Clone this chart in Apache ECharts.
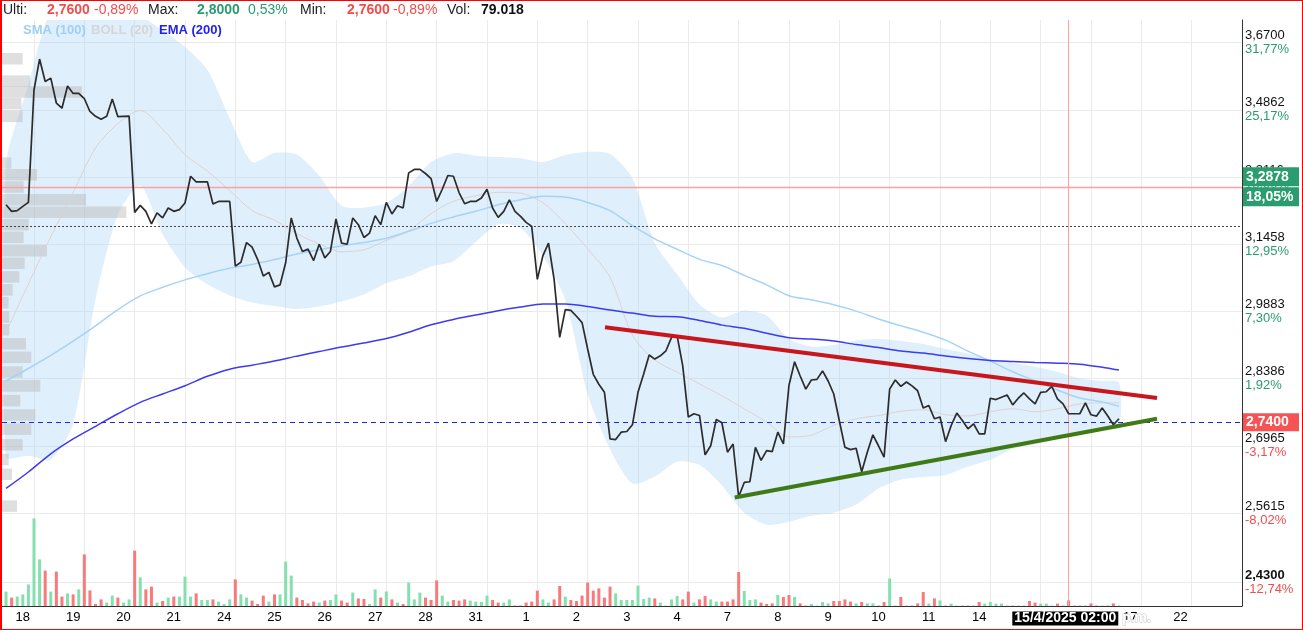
<!DOCTYPE html>
<html><head><meta charset="utf-8">
<script src="https://cdn.jsdelivr.net/npm/echarts@6/dist/echarts.min.js"></script>
<style>
html,body{margin:0;padding:0;background:#fff}
#wrap{position:relative;width:1303px;height:630px}
#c{width:1303px;height:630px}
#frame{position:absolute;left:0;top:0;width:1303px;height:630px;box-sizing:border-box;border:1px solid #ff0000;border-left-width:2px;pointer-events:none}
</style>
</head><body><div id="wrap"><div id="c"></div><div id="frame"></div></div>
<script>
// ---------------- DATA ----------------
const dayLabels = ['18','19','20','21','24','25','26','27','28','31','1','2','3','4','7','8','9','10','11','14','15','16','17','22'];
const slotsPerDay = 9;
const firstLabelSlot = 3;
const firstGridSlot = 5;

// hourly closes, one per slot
const closes = [
3.2423,3.2259,3.2276,3.2382,3.2480,3.5395,3.6242,3.5624,3.5717,3.5044,
3.4906,3.5505,3.5303,3.5303,3.5165,3.4818,3.4689,3.4611,3.4689,3.5154,
3.4681,3.4689,3.4696,3.2234,3.2406,3.2259,3.1949,3.2220,3.2097,3.2342,
3.2259,3.2301,3.2465,3.3136,3.2996,3.2996,3.2996,3.2441,3.2504,3.2504,
3.2504,3.0935,3.1029,3.1498,3.1388,3.1092,3.0702,3.0788,3.0450,3.0497,
3.1015,3.2097,3.1606,3.1285,3.1341,3.1068,3.1458,3.1131,3.1285,3.2072,
3.1483,3.1458,3.2097,3.1932,3.1620,3.1728,3.2153,3.1932,3.2480,3.2195,
3.2399,3.2342,3.3222,3.3310,3.3310,3.3206,3.3079,3.2504,3.2809,3.3155,
3.3136,3.2726,3.2448,3.2504,3.2504,3.2588,3.2809,3.2342,3.2112,3.2259,
3.2546,3.2259,3.2136,3.1989,3.1890,3.0625,3.1185,3.1483,3.0625,2.9295,
2.9925,2.9909,2.9774,2.9628,2.9036,2.8481,2.8266,2.8091,2.7108,2.7094,
2.7249,2.7262,2.7403,2.8091,2.8481,2.8903,2.8814,2.8887,2.8998,2.9295,
2.9331,2.8665,2.7565,2.7635,2.7599,2.6781,2.6967,2.7515,2.7445,2.6835,
2.7003,2.5935,2.6221,2.6235,2.6935,2.6667,2.6867,2.6847,2.7249,2.7003,
2.8245,2.8754,2.8444,2.8161,2.8357,2.8371,2.8554,2.8335,2.8056,2.7487,
2.6935,2.6887,2.6915,2.6435,2.6835,2.7192,2.6967,2.6735,2.8161,2.8357,
2.8218,2.8314,2.8230,2.8125,2.7755,2.7809,2.7529,2.7565,2.7051,2.7388,
2.7649,2.7493,2.7319,2.7424,2.7214,2.7214,2.7965,2.7936,2.7986,2.8034,
2.7824,2.7965,2.8077,2.7950,2.7845,2.8091,2.8104,2.8218,2.7950,2.7845,
2.7635,2.7635,2.7635,2.7866,2.7613,2.7586,2.7755,2.7586,2.7403,2.7529
];

// hourly volume (thousands)
const volumes = [
72,42,47,58,108,438,233,177,72,172,
47,63,58,83,258,78,10,33,17,52,
42,17,33,277,143,83,97,17,25,42,
47,47,147,47,63,30,30,33,22,10,
33,133,58,42,27,10,52,22,58,58,
222,152,42,30,13,22,17,27,30,58,
27,17,67,38,35,10,83,42,73,33,
17,10,117,33,67,42,30,128,52,22,
30,27,33,27,22,20,52,30,17,17,
33,2,2,17,22,77,33,17,33,100,
47,30,25,52,117,77,88,42,97,63,
30,30,30,102,35,42,38,17,2,33,
50,33,72,17,33,50,33,22,22,22,
33,170,75,30,33,17,10,13,55,45,
55,45,13,2,10,2,20,13,25,25,
33,22,13,20,13,13,2,20,138,2,
45,2,2,13,70,12,38,28,2,12,
2,2,2,2,20,12,20,12,12,2,
2,2,2,25,17,12,12,2,12,2,
28,2,2,2,13,2,2,2,13,2
];
// g = up bar, r = down bar
const volumeDir = 'grgggggrgr' + 'rgrgrrrrgg' + 'rggrgrrgrg' + 'rgggrggrgg' + 'grggrrrgrg' +
                  'ggrrrrgrgg' + 'rrgrrggrgr' + 'grgggrrrgg' + 'rrrggggrrg' + 'grrrrrggrr' +
                  'grrrrrrrrg' + 'ggggggrggg' + 'grrgrrggrr' + 'rrgggrrrgr' + 'rgrrggggrr' +
                  'rrgrggrrgg' + 'rgrrrgrgrg' + 'grrgrggggg' + 'rggrrgggrr' + 'rrrgrrgrrg';

// indicator readings (sampled slots)
const indSlots = [0,4,8,12,16,20,24,28,32,36,40,44,48,52,56,60,64,68,72,76,80,84,88,92,96,100,104,108,112,116,120,124,128,132,136,140,144,148,152,156,160,164,168,172,176,180,184,188,192,196,199];
const ema200 = [2.6101,2.6431,2.6801,2.7108,2.7371,2.7635,2.7877,2.8056,2.8234,2.8437,2.8592,2.8681,2.8770,2.8879,2.8980,2.9080,2.9169,2.9269,2.9413,2.9579,2.9701,2.9801,2.9901,2.9984,3.0054,3.0054,2.9996,2.9914,2.9845,2.9772,2.9763,2.9679,2.9572,2.9501,2.9391,2.9289,2.9258,2.9213,2.9136,2.9069,2.8991,2.8947,2.8881,2.8825,2.8785,2.8761,2.8739,2.8725,2.8703,2.8636,2.8574];
const sma100 = [2.8335,2.8608,2.8896,2.9213,2.9557,2.9925,3.0240,3.0439,3.0613,3.0758,3.0886,3.0975,3.1092,3.1222,3.1325,3.1418,3.1500,3.1601,3.1770,3.1964,3.2119,3.2261,3.2423,3.2546,3.2632,3.2613,3.2480,3.2276,3.1908,3.1589,3.1337,3.1096,3.0952,3.0718,3.0497,3.0245,3.0149,3.0035,2.9890,2.9712,2.9557,2.9413,2.9235,2.8991,2.8770,2.8537,2.8340,2.8140,2.7971,2.7887,2.7792];
const bollMid = [2.9406,3.0520,3.1638,3.2730,3.3861,3.4495,3.4844,3.4352,3.3688,3.3266,3.2780,3.2276,3.2043,3.1711,3.1465,3.1278,3.1325,3.1552,3.1785,3.2202,3.2509,3.2644,3.2730,3.2708,3.2473,3.1957,3.1348,3.0672,2.9346,2.8792,2.8526,2.8272,2.8018,2.7740,2.7460,2.7150,2.7186,2.7392,2.7529,2.7596,2.7687,2.7719,2.7613,2.7588,2.7677,2.7740,2.7677,2.7740,2.7845,2.7866,2.7866];
const bollUpper = [3.3421,3.5533,3.76,3.78,3.78,3.77,3.745,3.705,3.658,3.5947,3.4637,3.3499,3.3732,3.3693,3.3150,3.2399,3.2350,3.2463,3.2890,3.3499,3.3724,3.3662,3.3628,3.3595,3.3499,3.3681,3.3758,3.3707,3.3087,3.1490,3.0742,3.0042,2.9745,2.9902,2.9790,2.9258,2.9091,2.9124,2.9224,2.9258,2.9213,2.9147,2.9036,2.8936,2.8803,2.8736,2.8647,2.8537,2.8392,2.8340,2.8302];
const bollLower = [2.6741,2.6761,2.6681,2.7424,3.0159,3.2178,3.2902,3.1699,3.0905,3.0508,3.0252,3.0089,3.0007,2.9937,2.9996,3.0112,3.0275,3.0532,3.0695,3.0928,3.1052,3.1515,3.1945,3.1851,3.1185,3.0159,2.8056,2.6901,2.6201,2.6341,2.6641,2.6571,2.6161,2.5621,2.5388,2.5446,2.5563,2.5621,2.5781,2.6101,2.6281,2.6331,2.6371,2.6541,2.6681,2.6901,2.7003,2.7108,2.7256,2.7319,2.7361];

// volume-by-price profile
const profilePrices = [3.6250,3.5635,3.5339,3.5027,3.4689,3.3473,3.3175,3.2865,3.2546,3.2239,3.1932,3.1625,3.1302,3.1003,3.0683,3.0380,3.0082,2.9757,2.9468,2.9153,2.8852,2.8530,2.8230,2.7914,2.7607,2.7312,2.6986,2.6685,2.6385,2.5751];
const profileVolumes = [207,283,800,193,207,93,350,217,840,1243,267,217,450,227,173,107,67,73,73,240,293,207,383,183,333,293,207,67,100,150];

// trend lines
const resistSlots = [107.1, 205.8], resistPrices = [2.9524, 2.7970];
const supportSlots = [130.3, 205.8], supportPrices = [2.5921, 2.7529];

// axis ticks
const priceTicks = [2.43, 2.5615, 2.6965, 2.8386, 2.9883, 3.1458, 3.3116, 3.4862, 3.67];
const pctTicks = ['-12,74%','-8,02%','-3,17%','1,92%','7,30%','12,95%','18,90%','25,17%','31,77%'];
const priceMin = 2.3858, priceMax = 3.7340;

// reference levels / crosshair
const dottedLevel = 3.178;
const lastLevel = 2.74;
const crossPrice = 3.2878, crossPct = '18,05%';
const crossSlot = 190, crossTime = '15/4/2025 02:00', crossSuffix = ' p.m.';

// header
const statLabels = ['Ulti:','Max:','Min:','Vol:'];
const statValues = ['2,7600','2,8000','2,7600','79.018'];
const statPcts = ['-0,89%','0,53%','-0,89%',''];
const statTone = ['down','up','down','none'];
const legendNames = ['SMA (100)','BOLL (20)','EMA (200)'];

// ---------------- STYLE / LAYOUT ----------------
const FF = '"Liberation Sans", Arial, sans-serif';
const GREEN = '#2b9c6f', RED = '#f24d4d', PINK = '#ffa0a0';
const statX = [[3,47,94],[148,197,248],[300,347,393],[447,481,0]];
const legendX = [23,91,159];
const legendColors = ['#9fcff5','#d6d6d6','#2323e8'];
const binH = 0.0088;
const fmt = p => p.toFixed(4).replace('.', ',');
const L = Math.log;

const titles = [];
statLabels.forEach((lab, i) => {
  const tone = statTone[i] === 'up' ? GREEN : (statTone[i] === 'down' ? RED : '#111');
  titles.push({text: lab, left: statX[i][0], top: 3, padding: 0, textStyle: {fontSize: 14, fontWeight: 'normal', color: '#222', fontFamily: FF}});
  titles.push({text: statValues[i], left: statX[i][1], top: 3, padding: 0, textStyle: {fontSize: 14, fontWeight: 'bold', color: tone, fontFamily: FF}});
  if (statPcts[i]) titles.push({text: statPcts[i], left: statX[i][2], top: 3, padding: 0, textStyle: {fontSize: 14, fontWeight: 'normal', color: tone, fontFamily: FF}});
});
legendNames.forEach((n, i) => titles.push({text: n, left: legendX[i], top: 24, padding: 0, textStyle: {fontSize: 13, fontWeight: 'bold', color: legendColors[i], fontFamily: FF}}));

const chart = echarts.init(document.getElementById('c'), null, {renderer: 'canvas'});
const gridSlots = dayLabels.map((d, i) => firstGridSlot + slotsPerDay * i);
const labelSlots = dayLabels.map((d, i) => firstLabelSlot + slotsPerDay * i);
const tag = (bg) => ({backgroundColor: bg, color: '#fff', fontWeight: 'bold', fontSize: 14, lineHeight: 19, height: 18, width: 50, padding: [0, 3], fontFamily: FF});

const option = {
  animation: false,
  backgroundColor: '#fff',
  title: titles,
  grid: {left: 2, right: 61, top: 20, bottom: 24, containLabel: false},
  xAxis: [{
    type: 'value', min: -0.72, max: 221,
    axisLine: {show: true, onZero: false, lineStyle: {color: '#333', width: 1}},
    axisTick: {show: false, customValues: gridSlots},
    splitLine: {show: true, lineStyle: {color: '#ebebeb', width: 1}},
    axisLabel: {customValues: labelSlots, color: '#000', fontSize: 13, margin: 5, fontFamily: FF,
      formatter: v => dayLabels[Math.round((v - firstLabelSlot) / slotsPerDay)] || ''}
  }, {type: 'value', min: 0, max: 12400, show: false}],
  yAxis: [{
    type: 'value', position: 'right', min: L(priceMin), max: L(priceMax),
    axisLine: {show: true, onZero: false, lineStyle: {color: '#333', width: 1}},
    axisTick: {show: false, customValues: priceTicks.map(L)},
    splitLine: {show: true, lineStyle: {color: '#ebebeb', width: 1}},
    axisLabel: {customValues: priceTicks.map(L), margin: 3, fontFamily: FF,
      formatter: function (v) {
        let k = 0, best = 1e9;
        priceTicks.forEach((p, i) => { const d = Math.abs(L(p) - v); if (d < best) { best = d; k = i; } });
        const pc = pctTicks[k];
        return '{' + (k === 0 ? 'pb' : 'p') + '|' + fmt(priceTicks[k]) + '}\n{' + (pc.charAt(0) === '-' ? 'r' : 'g') + '|' + pc + '}';
      },
      rich: {
        p: {color: '#111', fontSize: 13, lineHeight: 14, fontFamily: FF},
        pb: {color: '#111', fontSize: 13, lineHeight: 14, fontWeight: 'bold', fontFamily: FF},
        g: {color: GREEN, fontSize: 13, lineHeight: 14, fontFamily: FF},
        r: {color: RED, fontSize: 13, lineHeight: 14, fontFamily: FF}
      }}
  }, {type: 'value', min: 0, max: 2930, show: false}],
  series: [
    {
      type: 'custom', name: 'BOLL band', xAxisIndex: 0, yAxisIndex: 0, clip: true, silent: true, z: 1,
      data: indSlots.map((s, i) => [s, L(bollUpper[i]), L(bollLower[i])]),
      renderItem: function (params, api) {
        if (params.dataIndex !== 0) return null;
        const pts = [];
        for (let i = 0; i < indSlots.length; i++) pts.push(api.coord([indSlots[i], L(bollUpper[i])]));
        for (let i = indSlots.length - 1; i >= 0; i--) pts.push(api.coord([indSlots[i], L(bollLower[i])]));
        return {type: 'polygon', shape: {points: pts, smooth: 0.25}, style: {fill: 'rgba(166,212,246,0.36)'}};
      }
    },
    {
      type: 'custom', name: 'Volume profile', xAxisIndex: 1, yAxisIndex: 0, clip: true, silent: true, z: 2,
      data: profilePrices.map((p, i) => [profileVolumes[i], L(p)]),
      renderItem: function (params, api) {
        const v = api.value(0), c = api.value(1);
        const a = api.coord([0, c + binH / 2]), b = api.coord([v, c - binH / 2]);
        return {type: 'rect', shape: {x: a[0], y: a[1], width: b[0] - a[0], height: b[1] - a[1]}, style: {fill: 'rgba(185,185,185,0.45)'}};
      }
    },
    {
      type: 'bar', name: 'Vol', xAxisIndex: 0, yAxisIndex: 1, barWidth: 3, z: 2, silent: true,
      data: volumes.map((v, i) => ({value: [i, v], itemStyle: {color: volumeDir[i] === 'g' ? '#86dfae' : '#f87a7a'}}))
    },
    {type: 'line', name: 'BOLL (20)', data: indSlots.map((s, i) => [s, L(bollMid[i])]), symbol: 'none', smooth: 0.3, silent: true, z: 3, lineStyle: {color: '#ddd3d3', width: 1}},
    {type: 'line', name: 'SMA (100)', data: indSlots.map((s, i) => [s, L(sma100[i])]), symbol: 'none', smooth: 0.3, silent: true, z: 3, lineStyle: {color: '#a6d3f7', width: 1.5}},
    {type: 'line', name: 'EMA (200)', data: indSlots.map((s, i) => [s, L(ema200[i])]), symbol: 'none', smooth: 0.3, silent: true, z: 3, lineStyle: {color: '#3b3bf2', width: 1.5}},
    {
      type: 'line', name: 'Crosshair', data: [], silent: true, z: 4,
      markLine: {
        silent: true, symbol: ['none', 'none'], animation: false,
        lineStyle: {color: PINK, type: 'solid', width: 1.3},
        data: [
          {yAxis: L(crossPrice), lineStyle: {color: PINK, type: 'solid', width: 1.3},
            label: {show: true, position: 'end', distance: 1, formatter: () => '{a|' + fmt(crossPrice) + '}\n{a|' + crossPct + '}', rich: {a: {backgroundColor: GREEN, color: '#fff', fontWeight: 'bold', fontSize: 14, lineHeight: 20, height: 19, width: 50, padding: [0, 3], fontFamily: FF}}}},
          {xAxis: crossSlot, lineStyle: {color: PINK, type: 'solid', width: 1},
            label: {show: true, position: 'start', distance: 3,
              formatter: () => '{s| }{a|' + crossTime + '}{b|' + crossSuffix + '}',
              rich: {
                s: {width: 26},
                a: {backgroundColor: '#000', color: '#fff', fontWeight: 'bold', fontSize: 14, lineHeight: 19, padding: [0, 2], fontFamily: FF},
                b: {color: '#fff', fontWeight: 'bold', fontSize: 14, lineHeight: 19, textBorderColor: '#c8c8c8', textBorderWidth: 1, fontFamily: FF}
              }}}
        ]
      }
    },
    {
      type: 'line', name: 'Price', data: closes.map((v, i) => [i, L(v)]), symbol: 'none', silent: true, z: 5,
      lineStyle: {color: '#2c2c2c', width: 1.7},
      markLine: {
        silent: true, symbol: ['none', 'none'], animation: false,
        data: [
          {yAxis: L(dottedLevel), lineStyle: {color: '#444', type: [2, 2], width: 1}, label: {show: false}},
          {yAxis: L(lastLevel), lineStyle: {color: '#2424d8', type: [5, 4], width: 1},
            label: {show: true, position: 'end', distance: 1, formatter: () => '{t|' + fmt(lastLevel) + '}', rich: {t: tag('#f65454')}}}
        ]
      }
    },
    {type: 'line', name: 'Resistance', data: resistSlots.map((s, i) => [s, L(resistPrices[i])]), symbol: 'none', silent: true, z: 6, lineStyle: {color: '#c8161d', width: 4}},
    {type: 'line', name: 'Support', data: supportSlots.map((s, i) => [s, L(supportPrices[i])]), symbol: 'none', silent: true, z: 6, lineStyle: {color: '#3f7a14', width: 4}}
  ]
};
chart.setOption(option);
</script></body></html>
